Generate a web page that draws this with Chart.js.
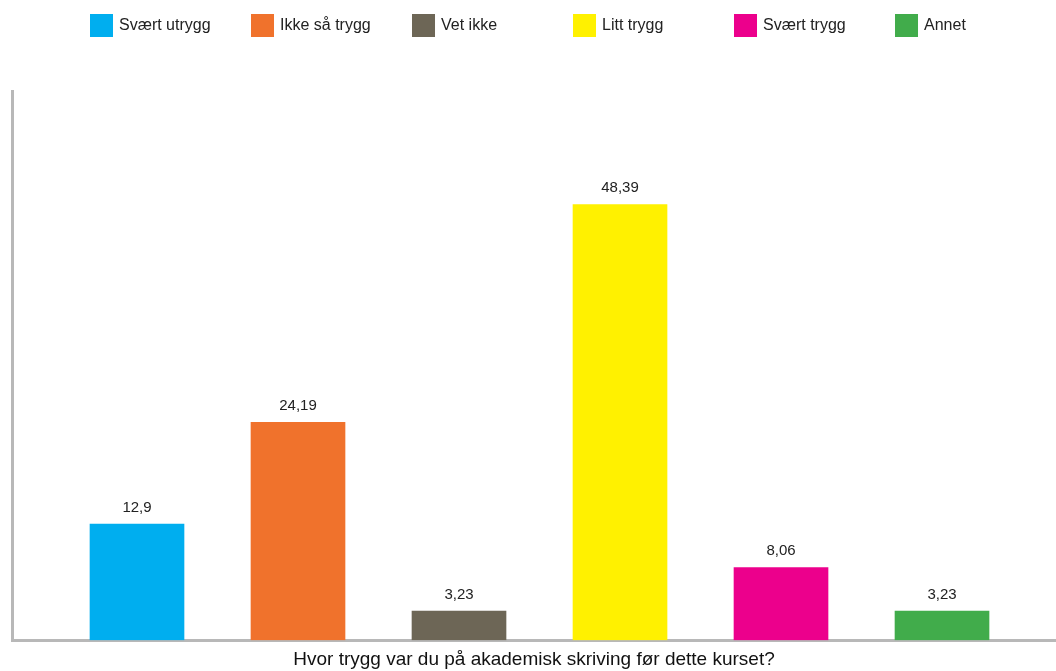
<!DOCTYPE html>
<html>
<head>
<meta charset="utf-8">
<script src="https://cdn.jsdelivr.net/npm/chart.js@4/dist/chart.umd.min.js"></script>
<style>
  body { margin: 0; background: #fff; }
  #wrap { width: 1056px; height: 671px; position: relative; }
</style>
</head>
<body>
<div id="wrap"><canvas id="chart"></canvas></div>
<script>
// data
const categories = ['Svært utrygg', 'Ikke så trygg', 'Vet ikke', 'Litt trygg', 'Svært trygg', 'Annet'];
const values = [12.9, 24.19, 3.23, 48.39, 8.06, 3.23];
const colors = ['#00aeef', '#f0722c', '#6d6656', '#fff100', '#ec008c', '#41ac4b'];
const axisTitle = 'Hvor trygg var du på akademisk skriving før dette kurset?';

const font = '"Liberation Sans", Arial, sans-serif';

// comma as decimal mark, like the original
function fmt(v) {
    return String(v).replace('.', ',');
}

// value above each bar
const valueLabels = {
    id: 'valueLabels',
    afterDatasetsDraw(chart) {
        const ctx = chart.ctx;
        const meta = chart.getDatasetMeta(0);
        ctx.save();
        ctx.font = '15px ' + font;
        ctx.fillStyle = '#222';
        ctx.textAlign = 'center';
        ctx.textBaseline = 'bottom';
        meta.data.forEach((bar, i) => {
            ctx.fillText(fmt(values[i]), bar.x, bar.y - 9);
        });
        ctx.restore();
    }
};

// legend on top, each box lined up with its bar
const topLegend = {
    id: 'topLegend',
    afterDraw(chart) {
        const ctx = chart.ctx;
        const meta = chart.getDatasetMeta(0);
        ctx.save();
        ctx.font = '16px ' + font;
        ctx.textBaseline = 'middle';
        meta.data.forEach((bar, i) => {
            const left = bar.x - bar.width / 2;
            ctx.fillStyle = colors[i];
            ctx.fillRect(left, 14, 23, 23);
            ctx.fillStyle = '#222';
            ctx.fillText(categories[i], left + 29, 26);
        });
        ctx.restore();
    }
};

new Chart(document.querySelector('#chart').getContext('2d'), {
    type: 'bar',
    data: {
        datasets: [{
            label: 'Andel',
            data: values.map((v, i) => ({ x: i, y: v })),
            backgroundColor: colors,
            borderWidth: 0,
            barThickness: 94
        }]
    },
    options: {
        responsive: true,
        maintainAspectRatio: false,
        animation: false,
        layout: { padding: { top: 91, left: 12, right: 0, bottom: 0 } },
        plugins: {
            legend: { display: false },
            tooltip: { enabled: false }
        },
        scales: {
            x: {
                type: 'linear',
                min: -0.7764,
                max: 5.708,
                offset: false,
                grid: { display: false, drawTicks: false },
                ticks: { display: false },
                border: { display: true, color: '#b8b8b8', width: 3 },
                title: {
                    display: true,
                    text: axisTitle,
                    color: '#111',
                    font: { family: font, size: 19 },
                    padding: { top: 8, bottom: 0 }
                }
            },
            y: {
                min: 0,
                max: 61,
                grid: { display: false, drawTicks: false },
                ticks: { display: false },
                border: { display: true, color: '#b8b8b8', width: 3 }
            }
        }
    },
    plugins: [valueLabels, topLegend]
});
</script>
</body>
</html>
